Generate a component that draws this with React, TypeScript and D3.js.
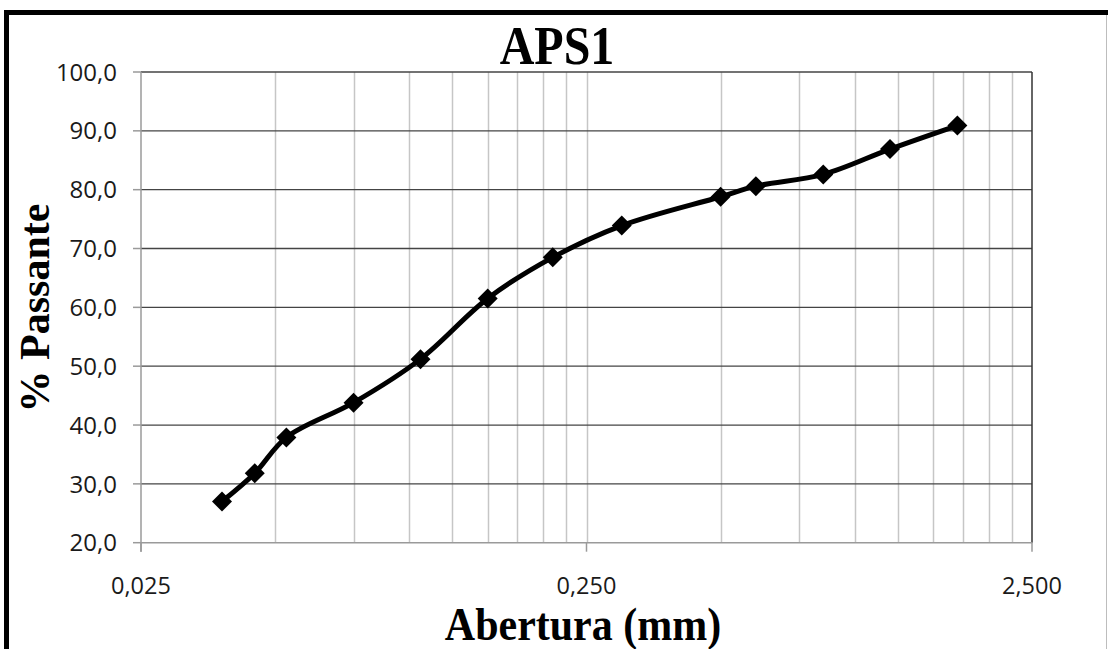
import React from "react";
import * as d3 from "d3";

const sizes = [0.038, 0.045, 0.053, 0.075, 0.106, 0.15, 0.21, 0.3, 0.5, 0.6, 0.85, 1.2, 1.7];
const passing = [27.0, 31.8, 37.9, 43.8, 51.2, 61.5, 68.5, 73.9, 78.8, 80.6, 82.6, 86.9, 90.9];
const xTicks = [0.025, 0.25, 2.5];
const yTicks = [20, 30, 40, 50, 60, 70, 80, 90, 100];
const xMinorMults = [1, 2, 3, 4, 5, 6, 7, 8, 9];
const title = "APS1";
const xLabel = "Abertura (mm)";
const yLabel = "% Passante";

const W = 1108;
const H = 649;
const L = 141, R = 1032, T = 72, B = 542.7;

export default function App() {
  const x = d3.scaleLog().domain([0.025, 2.5]).range([L, R]);
  const y = d3.scaleLinear().domain([20, 100]).range([B, T]);
  const minor: number[] = [];
  [0.025, 0.25].forEach((b) => xMinorMults.forEach((m) => { const v = b * m; if (v > 0.025) minor.push(v); }));
  const data = sizes.map((s, i) => [s, passing[i]] as [number, number]);
  const line = d3.line<[number, number]>().x((d) => x(d[0])).y((d) => y(d[1])).curve(d3.curveCatmullRom.alpha(0.5));
  const fmtX = (v: number) => v.toFixed(3).replace(".", ",");
  const fmtY = (v: number) => v.toFixed(1).replace(".", ",");
  const dm = 10;
  return (
    <svg width={W} height={H} style={{ position: "absolute", left: 0, top: 0, background: "#fff" }}>
      <rect x={0} y={0} width={W} height={H} fill="#fff" />
      {/* outer border */}
      <rect x={4} y={10} width={W} height={5} fill="#000" />
      <rect x={4} y={10} width={5} height={H} fill="#000" />
      <line x1={W - 1.5} x2={W - 1.5} y1={15} y2={H} stroke="#bdbdbd" strokeWidth={1} />
      {/* vertical gridlines */}
      {minor.map((v, i) => (
        <line key={"v" + i} x1={Math.round(x(v)) + 0.5} x2={Math.round(x(v)) + 0.5} y1={T} y2={B} stroke="#c6c6c6" strokeWidth={1.5} />
      ))}
      {/* horizontal gridlines */}
      {yTicks.filter((t) => t > 20).map((t) => (
        <line key={"h" + t} x1={L} x2={R} y1={y(t)} y2={y(t)} stroke="#444" strokeWidth={1.3} />
      ))}
      {/* right border */}
      <line x1={R} x2={R} y1={T} y2={B} stroke="#333" strokeWidth={1.5} />
      {/* axes */}
      <line x1={L} x2={L} y1={T} y2={B + 9} stroke="#9a9a9a" strokeWidth={1.5} />
      <line x1={L} x2={R} y1={B} y2={B} stroke="#9a9a9a" strokeWidth={1.5} />
      {yTicks.map((t) => (
        <line key={"yt" + t} x1={L - 8} x2={L} y1={y(t)} y2={y(t)} stroke="#9a9a9a" strokeWidth={1.5} />
      ))}
      {xTicks.map((t) => (
        <line key={"xt" + t} x1={x(t)} x2={x(t)} y1={B} y2={B + 9} stroke="#9a9a9a" strokeWidth={1.5} />
      ))}
      {yTicks.map((t) => (
        <text key={"yl" + t} x={117} y={y(t)} dy="0.36em" textAnchor="end" fontFamily="Open Sans" fontSize={24} fill="#1a1a1a">{fmtY(t)}</text>
      ))}
      {xTicks.map((t) => (
        <text key={"xl" + t} x={x(t)} y={593.5} textAnchor="middle" fontFamily="Open Sans" fontSize={23.5} fill="#1a1a1a">{fmtX(t)}</text>
      ))}
      {/* series */}
      <path d={line(data) || ""} fill="none" stroke="#000" strokeWidth={5} strokeLinejoin="round" />
      {data.map((d, i) => (
        <path key={"m" + i} d={`M${x(d[0])},${y(d[1]) - dm}L${x(d[0]) + dm},${y(d[1])}L${x(d[0])},${y(d[1]) + dm}L${x(d[0]) - dm},${y(d[1])}Z`} fill="#000" />
      ))}
      {/* titles */}
      <text transform="translate(557,64) scale(1,1.15)" textAnchor="middle" fontFamily="Liberation Serif" fontWeight="bold" fontSize={48}>{title}</text>
      <text transform="translate(583,640) scale(1,1.08)" textAnchor="middle" fontFamily="Liberation Serif" fontWeight="bold" fontSize={42}>{xLabel}</text>
      <text transform="translate(49,308) rotate(-90)" textAnchor="middle" fontFamily="Liberation Serif" fontWeight="bold" fontSize={42}>{yLabel}</text>
    </svg>
  );
}
